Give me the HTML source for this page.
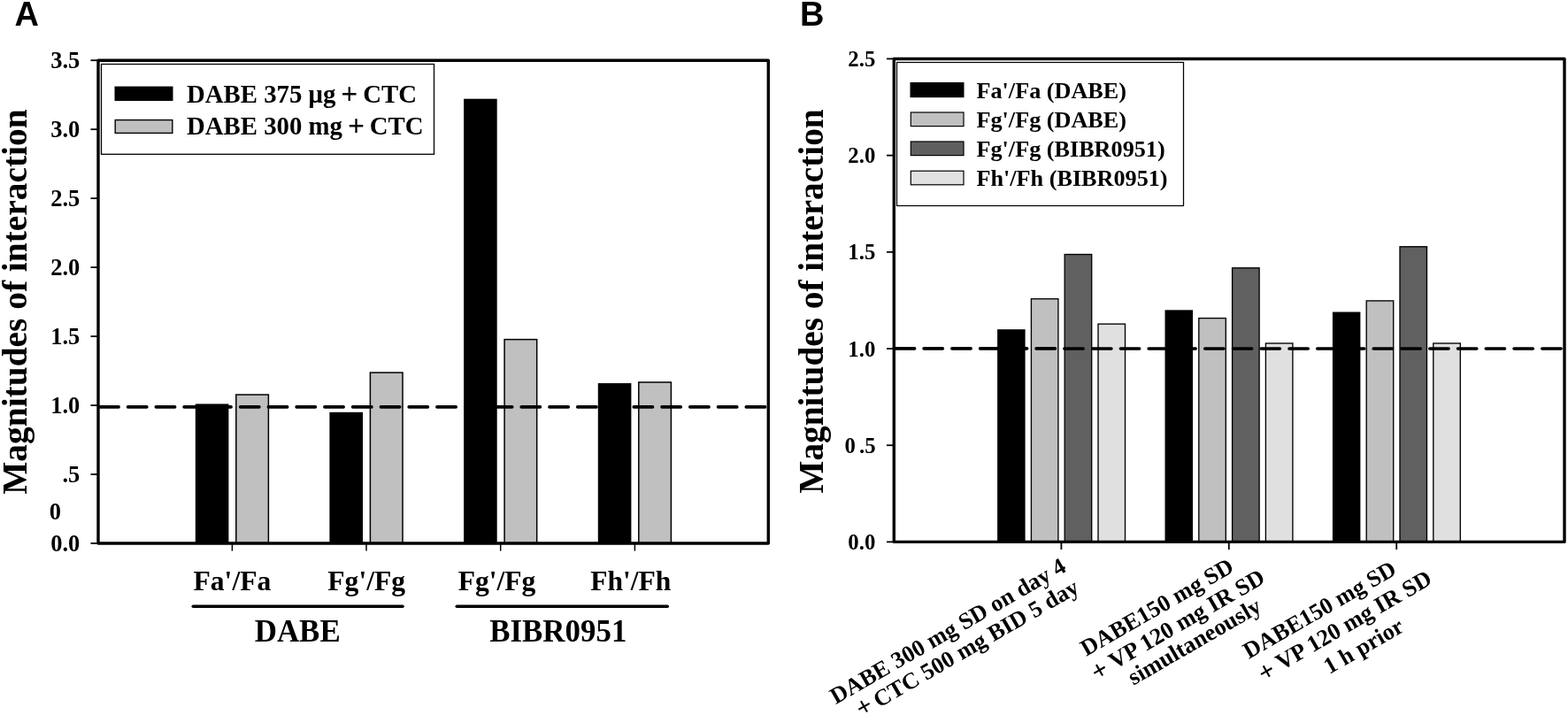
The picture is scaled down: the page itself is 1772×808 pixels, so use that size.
<!DOCTYPE html>
<html lang="en">
<head>
<meta charset="utf-8">
<title>Magnitudes of interaction</title>
<style>
html,body{margin:0;padding:0;background:#fff;}
body{width:1772px;height:808px;overflow:hidden;}
svg{display:block;}
text{font-family:"Liberation Serif","Times New Roman",Times,serif;font-weight:bold;fill:#000;}
.panel{font-family:"Liberation Sans",Arial,Helvetica,sans-serif;font-weight:bold;font-size:38px;}
.tick{font-size:26.5px;text-anchor:end;}
.leg{font-size:26.5px;}
.xl{font-size:31.6px;text-anchor:middle;}
.grp{font-size:34.9px;text-anchor:middle;}
.yt{font-size:39.3px;text-anchor:middle;}
.rot{font-size:26.3px;text-anchor:middle;}
.ax{stroke:#000;stroke-width:3.4;fill:none;stroke-linejoin:round;}
.tk{stroke:#000;stroke-width:1.8;}
.dash{stroke:#000;stroke-width:3.6;stroke-linecap:round;stroke-dasharray:21.3 10.46;fill:none;}
.ul{stroke:#000;stroke-width:3.6;stroke-linecap:round;}
</style>
</head>
<body>
<svg width="1772" height="808" viewBox="0 0 1772 808">
<rect width="1772" height="808" fill="#fff"/>

<text class="panel" x="16.6" y="29.1">A</text>
<rect x="220.80" y="456.44" width="37.60" height="157.56" fill="#000"/>
<rect x="266.80" y="446.02" width="36.60" height="167.98" fill="#c0c0c0" stroke="#000" stroke-width="1.5"/>
<rect x="372.40" y="465.80" width="37.60" height="148.20" fill="#000"/>
<rect x="418.40" y="421.06" width="36.60" height="192.94" fill="#c0c0c0" stroke="#000" stroke-width="1.5"/>
<rect x="524.10" y="111.68" width="37.60" height="502.32" fill="#000"/>
<rect x="570.10" y="383.62" width="36.60" height="230.38" fill="#c0c0c0" stroke="#000" stroke-width="1.5"/>
<rect x="675.80" y="433.04" width="37.60" height="180.96" fill="#000"/>
<rect x="721.80" y="431.98" width="36.60" height="182.02" fill="#c0c0c0" stroke="#000" stroke-width="1.5"/>
<line class="dash" x1="112.8" y1="459.9" x2="866.8" y2="459.9"/>
<rect class="ax" x="111.0" y="68.2" width="757.3" height="545.8"/>
<line class="tk" x1="102.5" y1="68.20" x2="111.0" y2="68.20"/>
<text class="tick" x="90.3" y="77.20">3.5</text>
<line class="tk" x1="102.5" y1="146.17" x2="111.0" y2="146.17"/>
<text class="tick" x="90.3" y="155.17">3.0</text>
<line class="tk" x1="102.5" y1="224.14" x2="111.0" y2="224.14"/>
<text class="tick" x="90.3" y="233.14">2.5</text>
<line class="tk" x1="102.5" y1="302.11" x2="111.0" y2="302.11"/>
<text class="tick" x="90.3" y="311.11">2.0</text>
<line class="tk" x1="102.5" y1="380.09" x2="111.0" y2="380.09"/>
<text class="tick" x="90.3" y="389.09">1.5</text>
<line class="tk" x1="102.5" y1="458.06" x2="111.0" y2="458.06"/>
<text class="tick" x="90.3" y="467.06">1.0</text>
<line class="tk" x1="102.5" y1="536.03" x2="111.0" y2="536.03"/>
<text class="tick" x="90.3" y="545.03">.5</text>
<line class="tk" x1="102.5" y1="614.00" x2="111.0" y2="614.00"/>
<text class="tick" x="90.3" y="623.00">0.0</text>
<text class="tick" x="69" y="587">0</text>
<line class="tk" style="stroke-width:1.5" x1="262.4" y1="614.0" x2="262.4" y2="622.6"/>
<text class="xl" x="262.4" y="666.5">Fa'/Fa</text>
<line class="tk" style="stroke-width:1.5" x1="414.0" y1="614.0" x2="414.0" y2="622.6"/>
<text class="xl" x="414.2" y="666.5">Fg'/Fg</text>
<line class="tk" style="stroke-width:1.5" x1="565.6999999999999" y1="614.0" x2="565.6999999999999" y2="622.6"/>
<text class="xl" x="561.5" y="666.5">Fg'/Fg</text>
<line class="tk" style="stroke-width:1.5" x1="717.4" y1="614.0" x2="717.4" y2="622.6"/>
<text class="xl" x="712.8" y="666.5">Fh'/Fh</text>
<line class="ul" x1="218.3" y1="685.2" x2="455" y2="685.2"/>
<line class="ul" x1="516.3" y1="685.2" x2="754.2" y2="685.2"/>
<text class="grp" x="336.2" y="725.2">DABE</text>
<text class="grp" x="630.8" y="725.2">BIBR0951</text>
<rect x="114.5" y="72.5" width="376" height="101.8" fill="#fff" stroke="#000" stroke-width="1.3"/>
<rect x="129.5" y="97.6" width="66" height="16.4" fill="#000"/>
<rect x="130.2" y="135.6" width="64.6" height="14.8" fill="#c0c0c0" stroke="#000" stroke-width="1.4"/>
<text class="leg" style="font-size:28.8px" x="211" y="116.3"><tspan>DABE 375 μg </tspan><tspan style="font-size:33.41px" dx="-1.31" dy="1.1">+</tspan><tspan dx="-1.31" dy="-1.1"> CTC</tspan></text>
<text class="leg" style="font-size:28.8px" x="211" y="151.8"><tspan>DABE 300 mg </tspan><tspan style="font-size:33.41px" dx="-1.31" dy="1.1">+</tspan><tspan dx="-1.31" dy="-1.1"> CTC</tspan></text>
<text class="yt" style="font-size:39.4px" transform="translate(30.4 341.1) rotate(-90)">Magnitudes of interaction</text>
<text class="panel" x="903.9" y="29">B</text>
<rect x="1127.10" y="372.18" width="31.50" height="240.22" fill="#000"/>
<rect x="1165.40" y="337.74" width="30.50" height="274.66" fill="#c0c0c0" stroke="#000" stroke-width="1.35"/>
<rect x="1203.20" y="287.51" width="30.50" height="324.89" fill="#606060" stroke="#000" stroke-width="1.35"/>
<rect x="1241.00" y="366.13" width="30.50" height="246.27" fill="#e0e0e0" stroke="#000" stroke-width="1.35"/>
<rect x="1316.50" y="350.34" width="31.50" height="262.06" fill="#000"/>
<rect x="1354.80" y="359.58" width="30.50" height="252.82" fill="#c0c0c0" stroke="#000" stroke-width="1.35"/>
<rect x="1392.60" y="302.80" width="30.50" height="309.60" fill="#606060" stroke="#000" stroke-width="1.35"/>
<rect x="1430.40" y="387.97" width="30.50" height="224.43" fill="#e0e0e0" stroke="#000" stroke-width="1.35"/>
<rect x="1505.90" y="352.53" width="31.50" height="259.87" fill="#000"/>
<rect x="1544.20" y="339.93" width="30.50" height="272.47" fill="#c0c0c0" stroke="#000" stroke-width="1.35"/>
<rect x="1582.00" y="278.78" width="30.50" height="333.62" fill="#606060" stroke="#000" stroke-width="1.35"/>
<rect x="1619.80" y="387.97" width="30.50" height="224.43" fill="#e0e0e0" stroke="#000" stroke-width="1.35"/>
<line class="dash" x1="1012.3" y1="393.9" x2="1766.5" y2="394"/>
<rect class="ax" x="1010.3" y="66.45" width="757.7" height="545.9499999999999"/>
<line class="tk" x1="1002" y1="66.45" x2="1010.3" y2="66.45"/>
<text class="tick" style="font-size:24.8px" x="989.3" y="75.05">2.5</text>
<line class="tk" x1="1002" y1="175.64" x2="1010.3" y2="175.64"/>
<text class="tick" style="font-size:24.8px" x="989.3" y="184.24">2.0</text>
<line class="tk" x1="1002" y1="284.83" x2="1010.3" y2="284.83"/>
<text class="tick" style="font-size:24.8px" x="989.3" y="293.43">1.5</text>
<line class="tk" x1="1002" y1="394.02" x2="1010.3" y2="394.02"/>
<text class="tick" style="font-size:24.8px" x="989.3" y="402.62">1.0</text>
<line class="tk" x1="1002" y1="503.21" x2="1010.3" y2="503.21"/>
<text class="tick" style="font-size:24.8px;text-anchor:start" x="954.5 971.1" y="511.81">0.5</text>
<line class="tk" x1="1002" y1="612.40" x2="1010.3" y2="612.40"/>
<text class="tick" style="font-size:24.8px" x="989.3" y="621.00">0.0</text>
<line class="tk" x1="1199.4" y1="612.4" x2="1199.4" y2="621"/>
<line class="tk" x1="1388.8000000000002" y1="612.4" x2="1388.8000000000002" y2="621"/>
<line class="tk" x1="1578.2" y1="612.4" x2="1578.2" y2="621"/>
<rect x="1013.5" y="70.5" width="324" height="162" fill="#fff" stroke="#000" stroke-width="1.25"/>
<rect x="1028.5" y="93.0" width="61" height="17.2" fill="#000"/>
<text class="leg" style="font-size:26.2px" x="1103.5" y="110.6">Fa'/Fa (DABE)</text>
<rect x="1029.3" y="127.0" width="59.7" height="15.6" fill="#c0c0c0" stroke="#000" stroke-width="1.2"/>
<text class="leg" style="font-size:26.2px" x="1103.5" y="144.1">Fg'/Fg (DABE)</text>
<rect x="1029.3" y="160.0" width="59.7" height="15.6" fill="#606060" stroke="#000" stroke-width="1.2"/>
<text class="leg" style="font-size:26.2px" x="1103.5" y="177.1">Fg'/Fg (BIBR0951)</text>
<rect x="1029.3" y="193.2" width="59.7" height="15.6" fill="#e0e0e0" stroke="#000" stroke-width="1.2"/>
<text class="leg" style="font-size:26.2px" x="1103.5" y="210.3">Fh'/Fh (BIBR0951)</text>
<text class="yt" transform="translate(930.2 340.5) rotate(-90)">Magnitudes of interaction</text>
<g transform="translate(1205 638) rotate(-30)">
<text class="rot" style="text-anchor:end;font-size:26.3px" x="-2.20" y="6.75">DABE 300 mg SD on day 4</text>
<text class="rot" style="text-anchor:end;font-size:26.25px" x="-3.00" y="34.60"><tspan style="font-size:30.45px" dx="1.70" dy="0.2">+</tspan><tspan dx="-1.70" dy="-0.2"> CTC 500 mg BID 5 day</tspan></text>
</g>
<g transform="translate(1394.4 638) rotate(-30)">
<text class="rot" style="text-anchor:end;font-size:26.3px" x="-2.20" y="6.75">DABE150 mg SD</text>
<text class="rot" style="text-anchor:end;font-size:26.45px" x="22.10" y="35.30"><tspan style="font-size:30.68px" dx="0.00" dy="2.2">+</tspan><tspan dx="0.00" dy="-2.2"> VP 120 mg IR SD</tspan></text>
<text class="rot" style="text-anchor:end;font-size:26.45px" x="2.40" y="61.70">simultaneously</text>
</g>
<g transform="translate(1583.8 638) rotate(-30)">
<text class="rot" style="text-anchor:end;font-size:26.3px" x="-8.60" y="6.50">DABE150 mg SD</text>
<text class="rot" style="text-anchor:end;font-size:26.45px" x="20.90" y="36.10"><tspan style="font-size:30.68px" dx="0.00" dy="2.2">+</tspan><tspan dx="0.00" dy="-2.2"> VP 120 mg IR SD</tspan></text>
<text class="rot" style="text-anchor:end;font-size:26.3px" x="-33.50" y="66.90">1 h prior</text>
</g>
</svg>
</body>
</html>
